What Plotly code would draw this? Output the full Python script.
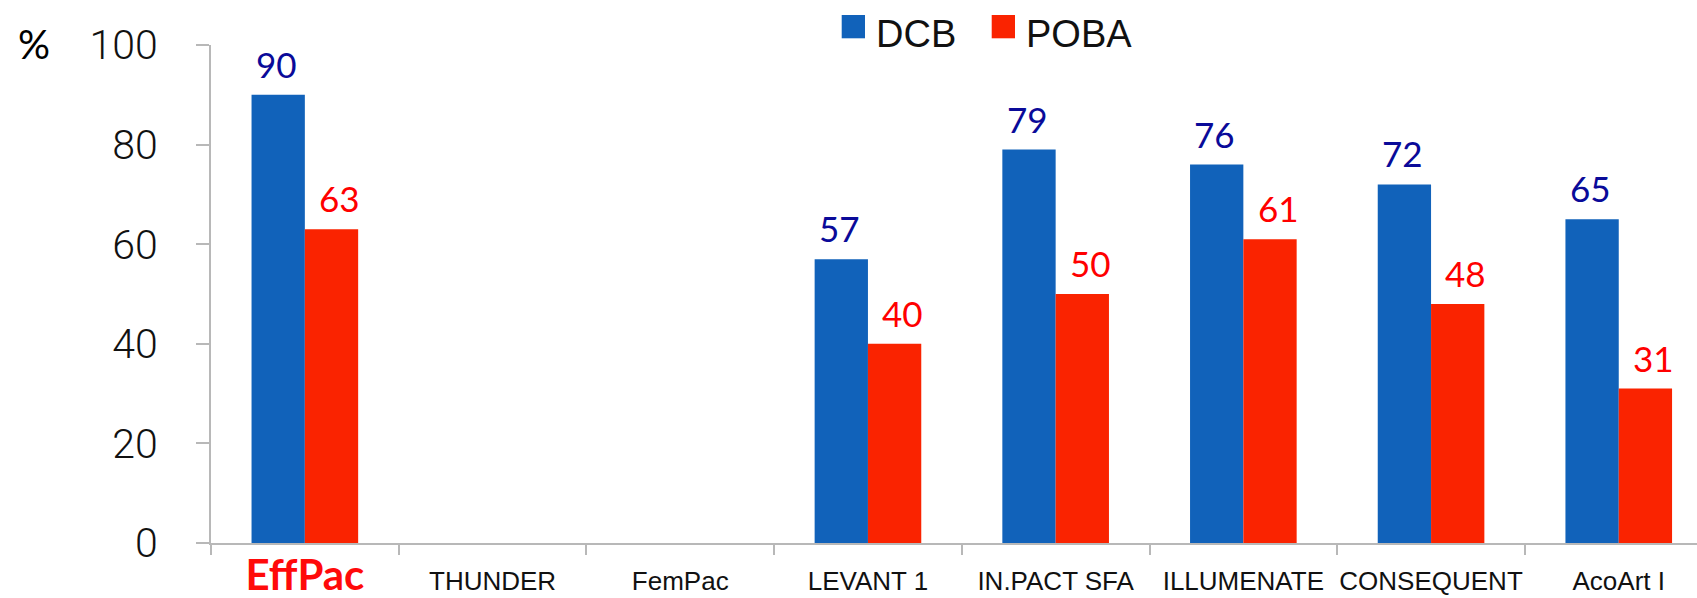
import plotly.graph_objects as go

# Trial names and success rates (%) for drug-coated balloon vs plain balloon
categories = ["EffPac", "THUNDER", "FemPac", "LEVANT 1", "IN.PACT SFA",
              "ILLUMENATE", "CONSEQUENT", "AcoArt I"]
dcb_values = [90, None, None, 57, 79, 76, 72, 65]
poba_values = [63, None, None, 40, 50, 61, 48, 31]
y_ticks = [0, 20, 40, 60, 80, 100]

BLUE = "#1162ba"
RED = "#fa2300"
NAVY = "#0a0a99"
AXIS_GREY = "#b8b8b8"

W, H = 1697, 598
M_L, M_R, M_T, M_B = 211, 0, 45, 55
PLOT_W = W - M_L - M_R
PLOT_H = H - M_T - M_B
CAT_PX = 187.7          # pixel width of one category slot
GROUP_FRAC = 0.568      # share of a slot filled by the pair of bars


def paper_x(px):
    return (px - M_L) / PLOT_W


def paper_y(py):
    return (H - M_B - py) / PLOT_H


tick_text = ['<b><span style="color:#ff0a0a;font-size:42px;font-family:Lato">EffPac</span></b>'] + categories[1:]

fig = go.Figure()
fig.add_trace(go.Bar(name="DCB", x=list(range(len(categories))), y=dcb_values,
                     marker=dict(color=BLUE, line=dict(width=0)), showlegend=False))
fig.add_trace(go.Bar(name="POBA", x=list(range(len(categories))), y=poba_values,
                     marker=dict(color=RED, line=dict(width=0)), showlegend=False))

# Value labels above each bar
half = GROUP_FRAC / 4
for i in range(len(categories)):
    if dcb_values[i] is not None:
        fig.add_annotation(x=i - half, y=dcb_values[i], xref="x", yref="y",
                           text=str(dcb_values[i]), showarrow=False,
                           yanchor="bottom", yshift=8, xshift=-2,
                           font=dict(family="Lato", size=35, color=NAVY))
    if poba_values[i] is not None:
        fig.add_annotation(x=i + half, y=poba_values[i], xref="x", yref="y",
                           text=str(poba_values[i]), showarrow=False,
                           yanchor="bottom", yshift=8, xshift=8,
                           font=dict(family="Lato", size=35, color="#ff0000"))

# Legend drawn as swatches plus labels
for (x0, x1, col, label, tx) in [(841.7, 865, BLUE, "DCB", 874),
                                 (991.7, 1015, RED, "POBA", 1024)]:
    fig.add_shape(type="rect", xref="paper", yref="paper",
                  x0=paper_x(x0), x1=paper_x(x1), y0=paper_y(38.3), y1=paper_y(15),
                  fillcolor=col, line=dict(width=0))
    fig.add_annotation(xref="paper", yref="paper", x=paper_x(tx), y=paper_y(34),
                       xanchor="left", yanchor="middle", text=label, showarrow=False,
                       font=dict(family="Liberation Sans", size=38, color="#111111"))

# Axis unit
fig.add_annotation(xref="paper", yref="paper", x=paper_x(16), y=paper_y(44),
                   xanchor="left", yanchor="middle", text="%", showarrow=False,
                   font=dict(family="Lato", size=40, color="#000000"))

fig.update_layout(
    width=W, height=H,
    margin=dict(l=M_L, r=M_R, t=M_T, b=M_B, pad=0, autoexpand=False),
    paper_bgcolor="white", plot_bgcolor="white",
    barmode="group", bargap=1 - GROUP_FRAC, bargroupgap=0,
    showlegend=False,
    xaxis=dict(
        type="category", automargin=False, tickangle=0,
        range=[-0.5, -0.5 + PLOT_W / CAT_PX],
        tickmode="array", tickvals=list(range(len(categories))), ticktext=tick_text,
        tickson="boundaries", ticks="outside", ticklen=10, tickwidth=2,
        tickcolor=AXIS_GREY, showline=True, linecolor=AXIS_GREY, linewidth=2,
        showgrid=False, zeroline=False,
        tickfont=dict(family="Liberation Sans", size=26, color="#111111"),
        ticklabelstandoff=14,
    ),
    yaxis=dict(
        automargin=False,
        range=[0, 100], tickmode="array", tickvals=y_ticks,
        ticks="outside", ticklen=13, tickwidth=2, tickcolor=AXIS_GREY,
        showline=True, linecolor=AXIS_GREY, linewidth=2,
        showgrid=False, zeroline=False,
        tickfont=dict(family="Roboto", weight=300, size=41, color="#111111"),
        ticklabelstandoff=30,
    ),
)

fig.write_html("out.html")
